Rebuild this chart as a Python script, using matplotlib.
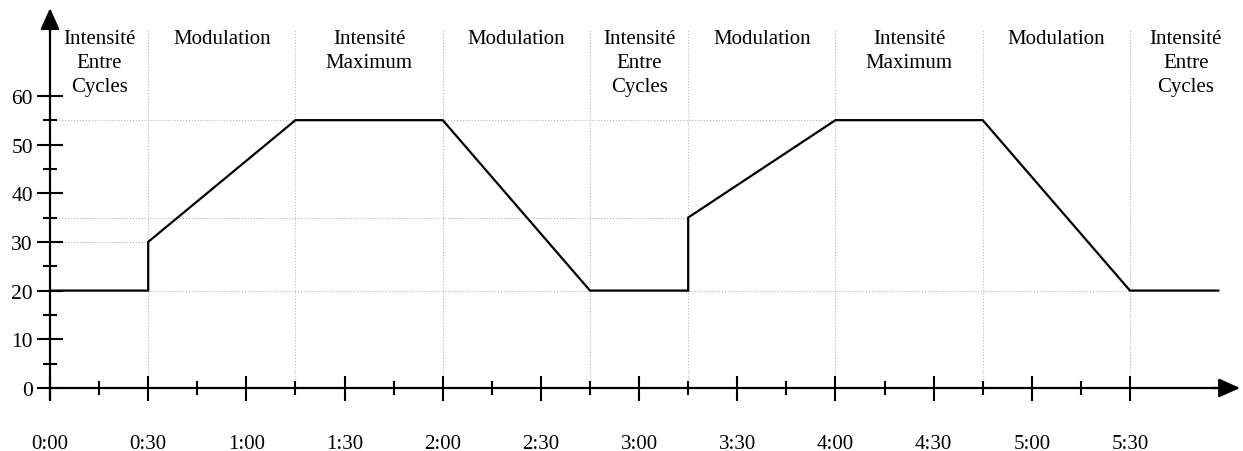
import matplotlib
matplotlib.use("Agg")
import matplotlib.pyplot as plt
from matplotlib.ticker import FixedLocator, FixedFormatter

plt.rcParams['font.family'] = ['Liberation Serif', 'DejaVu Serif']

# données : temps (s) et intensité
temps = [0, 30, 30, 75, 120, 165, 195, 195, 240, 285, 330, 357]
intensite = [20, 20, 30, 55, 55, 20, 20, 35, 55, 55, 20, 20]

# phases
bornes = [0, 30, 75, 120, 165, 195, 240, 285, 330, 364]
phases = ["Intensité\nEntre\nCycles", "Modulation", "Intensité\nMaximum", "Modulation",
          "Intensité\nEntre\nCycles", "Modulation", "Intensité\nMaximum", "Modulation",
          "Intensité\nEntre\nCycles"]

# repères horizontaux : niveau et fin
niveaux = [55, 35, 30, 20]
fins_niveaux = [240, 195, 30, 330]

xticks_maj = list(range(0, 331, 30))
xlabels = ["0:00", "0:30", "1:00", "1:30", "2:00", "2:30", "3:00",
           "3:30", "4:00", "4:30", "5:00", "5:30"]
xticks_min = list(range(15, 316, 30))
yticks_maj = [0, 10, 20, 30, 40, 50, 60]
yticks_min = [5, 15, 25, 35, 45, 55]

fig = plt.figure(figsize=(12.43, 4.52), dpi=100)
ax = fig.add_axes([0, 0, 1, 1])
ax.set_facecolor('none')
ax.set_xlim(-15.28, 364.53)
ax.set_ylim(-12.94, 79.88)

# grille pointillée
for xb in bornes[1:-1]:
    ax.plot([xb, xb], [0, 73.5], color='#b5b5b5', lw=0.8, ls=':', zorder=1)
for niv, fin in zip(niveaux, fins_niveaux):
    ax.plot([0, fin], [niv, niv], color='#b5b5b5', lw=0.8, ls=':', zorder=1)

# courbe
ax.plot(temps, intensite, color='black', lw=1.6, zorder=3, solid_joinstyle='miter')

# textes des phases
for i, nom in enumerate(phases):
    xc = (bornes[i] + bornes[i + 1]) / 2
    ax.text(xc, 73.8, nom, ha='center', va='top', fontsize=15, linespacing=1.36)

# axes
for s in ['top', 'right']:
    ax.spines[s].set_visible(False)
ax.spines['left'].set_position(('data', 0))
ax.spines['bottom'].set_position(('data', 0))
ax.spines['left'].set_bounds(-2.3, 75)
ax.spines['bottom'].set_bounds(0, 358)
ax.spines['left'].set_linewidth(1.6)
ax.spines['bottom'].set_linewidth(1.6)

ax.annotate('', xy=(0, 78.0), xytext=(0, 73.0),
            arrowprops=dict(arrowstyle='-|>,head_length=1.0,head_width=0.45',
                            mutation_scale=13, color='black', lw=1.6,
                            shrinkA=0, shrinkB=0))
ax.annotate('', xy=(363.6, 0), xytext=(355, 0),
            arrowprops=dict(arrowstyle='-|>,head_length=1.0,head_width=0.45',
                            mutation_scale=13, color='black', lw=1.6,
                            shrinkA=0, shrinkB=0))

ax.xaxis.set_major_locator(FixedLocator(xticks_maj))
ax.xaxis.set_major_formatter(FixedFormatter(xlabels))
ax.xaxis.set_minor_locator(FixedLocator(xticks_min))
ax.yaxis.set_major_locator(FixedLocator(yticks_maj))
ax.yaxis.set_minor_locator(FixedLocator(yticks_min))

ax.tick_params(axis='x', which='major', direction='inout', length=18, width=1.5,
               pad=24, labelsize=15)
ax.tick_params(axis='x', which='minor', direction='inout', length=9.4, width=1.5)
ax.tick_params(axis='y', which='major', direction='inout', length=18.5, width=1.5,
               pad=3, labelsize=15.5)
ax.tick_params(axis='y', which='minor', direction='inout', length=9.4, width=1.5)

fig.savefig("out.png", dpi=100)
